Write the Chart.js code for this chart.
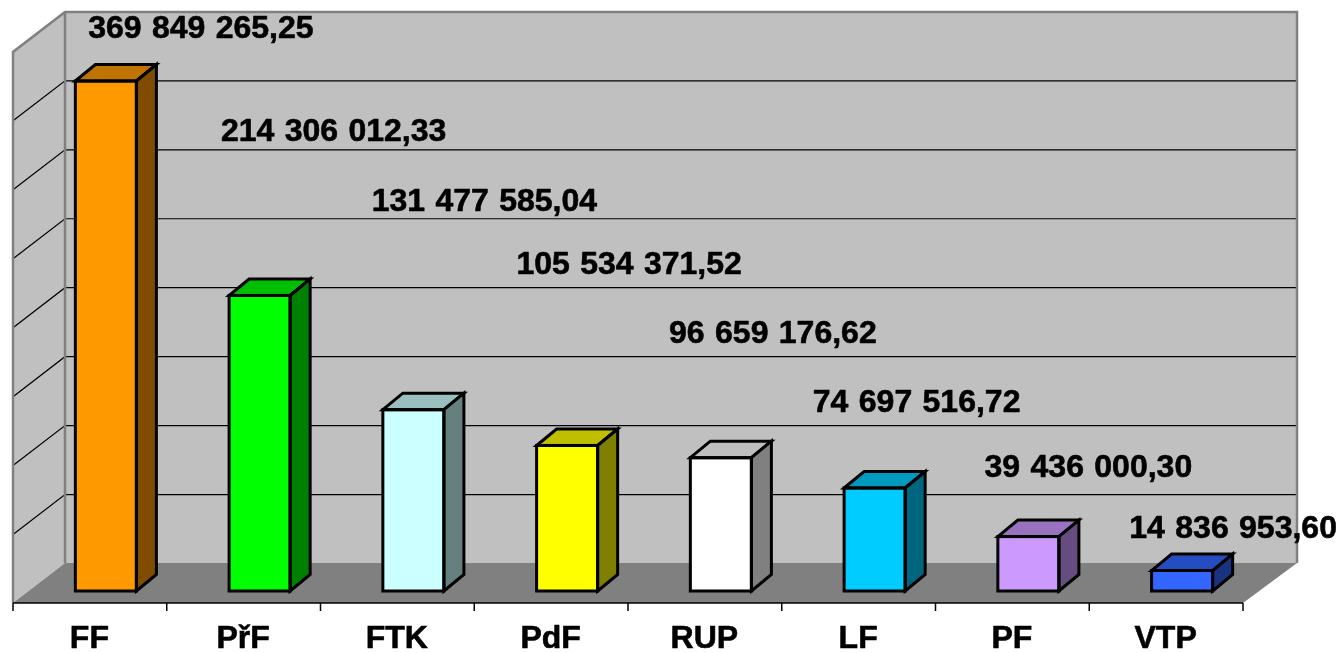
<!DOCTYPE html>
<html><head><meta charset="utf-8">
<style>html,body{margin:0;padding:0;background:#fff}#w{position:relative;width:1341px;height:653px}</style>
<script src="https://cdn.jsdelivr.net/npm/chart.js@4"></script>
</head><body><div id="w"><canvas id="c" width="1341" height="653"></canvas></div>
<script>
const categories = ['FF','PřF','FTK','PdF','RUP','LF','PF','VTP'];
const amounts = [369849265.25,214306012.33,131477585.04,105534371.52,96659176.62,74697516.72,39436000.30,14836953.60];
const valueLabels = ['369 849 265,25','214 306 012,33','131 477 585,04','105 534 371,52','96 659 176,62','74 697 516,72','39 436 000,30','14 836 953,60'];
const gridValues = [0,50000000,100000000,150000000,200000000,250000000,300000000,350000000,400000000];
const frontColors = ['#FF9900','#00FF00','#CCFFFF','#FFFF00','#FFFFFF','#00CCFF','#CC99FF','#3366FF'];
const topColors = ['#BF7300','#00BF00','#99BFBF','#BFBF00','#BFBFBF','#0099BF','#9973BF','#264DBF'];
const sideColors = ['#804D00','#008000','#668080','#808000','#808080','#006680','#664D80','#1A3380'];
const labelShiftX = [95,74,71,62,52,42,60,51];
const labelCenterY = [29,132,202,265,334,403,468,529];

const geo = {fl:13, fr:1243, fy:603, bl:65, br:1297, by:563, depthX:20, depthY:16.5, wallShift:27.5};

const scene = {
  id:'scene',
  beforeDatasetsDraw(chart){
    const {ctx,scales:{y}} = chart, g = geo;
    const wallTop = y.getPixelForValue(400000000) - g.wallShift;
    ctx.save();
    ctx.fillStyle='#C0C0C0'; ctx.strokeStyle='#808080'; ctx.lineWidth=2.5;
    ctx.beginPath(); ctx.moveTo(g.bl,g.by); ctx.lineTo(g.bl,wallTop); ctx.lineTo(g.br,wallTop); ctx.lineTo(g.br,g.by); ctx.closePath(); ctx.fill();
    ctx.beginPath(); ctx.moveTo(g.fl,g.fy); ctx.lineTo(g.fl,wallTop+g.fy-g.by); ctx.lineTo(g.bl,wallTop); ctx.lineTo(g.bl,g.by); ctx.closePath(); ctx.fill();
    ctx.fillStyle='#808080';
    ctx.beginPath(); ctx.moveTo(g.fl,g.fy); ctx.lineTo(g.bl,g.by); ctx.lineTo(g.br,g.by); ctx.lineTo(g.fr,g.fy); ctx.closePath(); ctx.fill();
    ctx.strokeStyle='#000'; ctx.lineWidth=1.2;
    gridValues.forEach(v=>{
      if(v===0||v===400000000) return;
      const py=y.getPixelForValue(v)-g.wallShift;
      ctx.beginPath(); ctx.moveTo(g.fl,py+g.fy-g.by); ctx.lineTo(g.bl,py); ctx.lineTo(g.br,py); ctx.stroke();
    });
    ctx.strokeStyle='#808080'; ctx.lineWidth=2.5;
    ctx.beginPath(); ctx.moveTo(g.fl,g.fy); ctx.lineTo(g.fl,wallTop+g.fy-g.by); ctx.lineTo(g.bl,wallTop); ctx.lineTo(g.br,wallTop); ctx.lineTo(g.br,g.by); ctx.stroke();
    ctx.beginPath(); ctx.moveTo(g.bl,wallTop); ctx.lineTo(g.bl,g.by); ctx.stroke();
    ctx.strokeStyle='#000'; ctx.lineWidth=1.5;
    ctx.beginPath(); ctx.moveTo(g.fl,g.fy); ctx.lineTo(g.fr,g.fy); ctx.stroke();
    const step=(g.fr-g.fl)/categories.length;
    for(let i=0;i<=categories.length;i++){const x=g.fl+i*step; ctx.beginPath(); ctx.moveTo(x,g.fy); ctx.lineTo(x,g.fy+8); ctx.stroke();}
    ctx.restore();
  },
  afterDatasetsDraw(chart){
    const {ctx} = chart, g = geo, meta = chart.getDatasetMeta(0);
    ctx.save();
    ctx.lineWidth=3; ctx.strokeStyle='#000'; ctx.lineJoin='miter';
    meta.data.forEach((bar,i)=>{
      const l=bar.x-bar.width/2, r=bar.x+bar.width/2, t=bar.y, b=bar.base;
      ctx.fillStyle=topColors[i];
      ctx.beginPath(); ctx.moveTo(l,t); ctx.lineTo(l+g.depthX,t-g.depthY); ctx.lineTo(r+g.depthX,t-g.depthY); ctx.lineTo(r,t); ctx.closePath(); ctx.fill(); ctx.stroke();
      ctx.fillStyle=sideColors[i];
      ctx.beginPath(); ctx.moveTo(r,t); ctx.lineTo(r+g.depthX,t-g.depthY); ctx.lineTo(r+g.depthX,b-g.depthY); ctx.lineTo(r,b); ctx.closePath(); ctx.fill(); ctx.stroke();
      ctx.strokeRect(l,t,r-l,b-t);
    });
    ctx.fillStyle='#000';
    ctx.font='bold 32px "Liberation Sans", Arial, sans-serif';
    ctx.textAlign='center'; ctx.textBaseline='middle';
    ctx.wordSpacing='1.5px';
    ctx.lineWidth=0.6; ctx.lineJoin='round';
    meta.data.forEach((bar,i)=>{
      ctx.fillText(valueLabels[i],bar.x+labelShiftX[i],labelCenterY[i]);
      ctx.strokeText(valueLabels[i],bar.x+labelShiftX[i],labelCenterY[i]);
    });
    ctx.restore();
  }
};

new Chart(document.getElementById('c'),{
  type:'bar',
  data:{labels:categories,datasets:[{data:amounts,backgroundColor:frontColors,borderWidth:0,barPercentage:0.397,categoryPercentage:1}]},
  options:{
    responsive:false,animation:false,
    layout:{padding:{left:29,right:82,top:39.4,bottom:0}},
    plugins:{legend:{display:false},tooltip:{enabled:false}},
    scales:{
      y:{display:false,min:0,max:400000000,grid:{display:false}},
      x:{
        grid:{display:false},border:{display:false},
        afterFit(s){s.height=62;},
        ticks:{color:'#000',padding:21,labelOffset:-16.5,maxRotation:0,autoSkip:false,textStrokeColor:'#000',textStrokeWidth:0.6,font:{family:'"Liberation Sans", Arial, sans-serif',size:32,weight:'bold'}}
      }
    }
  },
  plugins:[scene]
});
</script></body></html>
